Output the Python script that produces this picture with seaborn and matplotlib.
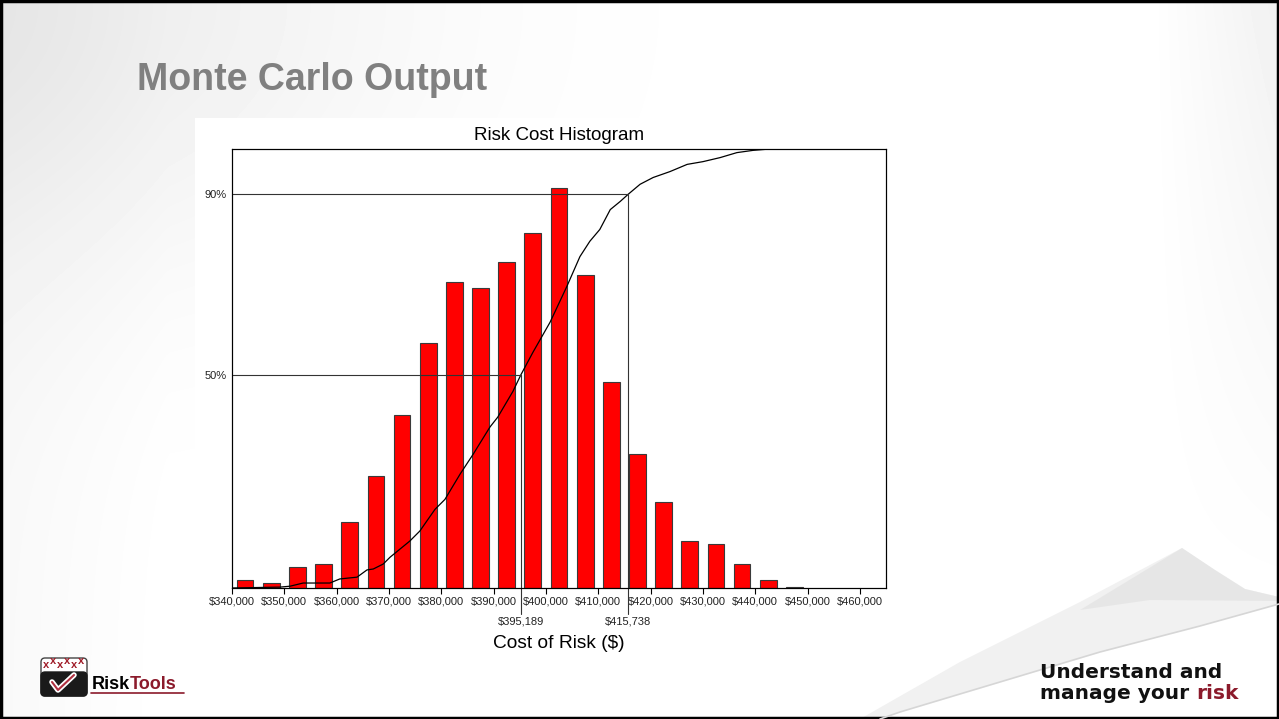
import numpy as np
import pandas as pd
import seaborn as sns
import matplotlib.pyplot as plt
import matplotlib.transforms as mtransforms
from matplotlib.patches import Rectangle, Polygon, FancyBboxPatch

# Histogram of simulated risk cost ($5,000 bins, bin centres)
bin_centers = [342500, 347500, 352500, 357500, 362500, 367500, 372500, 377500,
               382500, 387500, 392500, 397500, 402500, 407500, 412500, 417500,
               422500, 427500, 432500, 437500, 442500, 447500]
counts = [12, 8, 33, 37, 103, 175, 270, 382, 478, 468, 509, 554,
          624, 488, 321, 209, 134, 73, 69, 37, 12, 2]

# Cumulative distribution
cum_cost = [340000, 349200, 351100, 353600, 358700, 360600, 363900, 365800,
            367000, 368900, 370200, 374000, 375900, 378800, 380700, 383600,
            386100, 389300, 390800, 393700, 395189, 397500, 400800, 404000,
            406500, 408400, 410300, 412300, 414200, 415738, 418000, 420500,
            423700, 427000, 430000, 433300, 436500, 439600, 442800]
cum_pct = [0.029, 0.031, 0.033, 0.040, 0.040, 0.049, 0.053, 0.069, 0.071, 0.082,
           0.097, 0.133, 0.155, 0.203, 0.225, 0.281, 0.325, 0.385, 0.407, 0.464,
           0.500, 0.550, 0.617, 0.696, 0.762, 0.796, 0.822, 0.866, 0.884, 0.900,
           0.922, 0.937, 0.950, 0.966, 0.972, 0.981, 0.992, 0.997, 1.000]

# Percentile markers
pct_levels = [0.5, 0.9]
pct_costs = [395189, 415738]
pct_labels = ['50%', '90%']

x_ticks = [340000, 350000, 360000, 370000, 380000, 390000, 400000,
           410000, 420000, 430000, 440000, 450000, 460000]

hist_df = pd.DataFrame({'cost': bin_centers, 'count': counts})
cdf_df = pd.DataFrame({'cost': cum_cost, 'pct': cum_pct})

sns.set_theme(style='white')
plt.rcParams['font.family'] = ['Liberation Sans', 'DejaVu Sans']

W, H = 1279, 719
fig = plt.figure(figsize=(W / 100, H / 100), dpi=100)

# Slide background (light gradient, page curl, border)
bg = fig.add_axes([0, 0, 1, 1], zorder=-10)
xx, yy = np.meshgrid(np.linspace(0, 1, 320), np.linspace(0, 1, 180))
shade = 0.075 * np.exp(-((xx / 0.3) ** 2 + (yy / 0.38) ** 2))
shade += 0.055 * np.clip((xx - 0.9) / 0.1, 0, 1) * np.clip(1 - yy / 0.85, 0, 1)
shade += 0.025 * np.clip(1 - xx / 0.13, 0, 1)
bg.imshow(1 - shade, cmap='gray', vmin=0, vmax=1, extent=[0, W, H, 0],
          aspect='auto', interpolation='bilinear')
bg.add_patch(Polygon([(860, 719), (960, 662), (1080, 602), (1182, 548),
                      (1215, 570), (1245, 589), (1279, 597), (1279, 604),
                      (1200, 626), (1100, 652), (1000, 682), (900, 712),
                      (880, 719)], closed=True, fc='#f1f1f1', ec='none'))
bg.add_patch(Polygon([(1182, 548), (1215, 570), (1245, 589), (1279, 597),
                      (1279, 601), (1150, 600), (1080, 610)], closed=True,
                     fc='#e4e4e4', ec='none', alpha=0.8))
bg.plot([1279, 1200, 1100, 1000, 900, 880], [604, 626, 652, 682, 712, 719],
        color='#d6d6d6', lw=1.2)
bg.add_patch(Rectangle((195, 118), 710, 542, fc='white', ec='none'))
bg.add_patch(Rectangle((1, 1), W - 2, H - 2, fill=False, ec='black', lw=2.5))

# Logo
bg.add_patch(FancyBboxPatch((41, 658), 46, 38, boxstyle='round,pad=0,rounding_size=4',
                            fc='white', ec='#444444', lw=1))
bg.add_patch(FancyBboxPatch((41, 672), 46, 24, boxstyle='round,pad=0,rounding_size=4',
                            fc='#1a1a1a', ec='#1a1a1a', lw=1))
for lx, ly in [(46, 668), (53, 664), (60, 668), (67, 664), (74, 668), (81, 664)]:
    bg.text(lx, ly, 'x', color='#a01c28', fontsize=8, fontweight='bold',
            ha='center', va='baseline')
bg.plot([52, 58, 74], [682, 690, 675], color='white', lw=4, solid_capstyle='round')
bg.plot([52, 58, 74], [682, 690, 675], color='#b03040', lw=1.5, solid_capstyle='round')
bg.text(130, 689, 'Risk', color='black', fontsize=13, fontweight='bold',
        ha='right', va='baseline')
bg.text(130, 689, 'Tools', color='#8b1a2b', fontsize=13, fontweight='bold',
        ha='left', va='baseline')
bg.plot([91, 184], [693, 693], color='#8b1a2b', lw=1.2)

bg.set_xlim(0, W)
bg.set_ylim(H, 0)
bg.axis('off')

# Tagline
tag_kw = dict(fontsize=14.5, fontweight='heavy', family='DejaVu Sans',
              ha='left', va='baseline')
bg.text(1040, 678, 'Understand and', color='#111111', **tag_kw)
t2 = bg.text(1040, 699, 'manage your', color='#111111', **tag_kw)
renderer = fig.canvas.get_renderer()
ext = t2.get_window_extent(renderer=renderer)
x_risk = bg.transData.inverted().transform((ext.x1, ext.y0))[0] + 7
bg.text(x_risk, 699, 'risk', color='#8b1a2b', **tag_kw)

fig.text(137 / W, 1 - 90 / H, 'Monte Carlo Output', fontsize=27, fontweight='bold',
         color='#808080', ha='left', va='baseline')

# Histogram
ax = fig.add_axes([232 / W, (H - 588) / H, 654 / W, 439 / H])
sns.histplot(data=hist_df, x='cost', weights='count', binwidth=5000,
             binrange=(340000, 450000), shrink=0.64, color='#ff0000',
             edgecolor='#3a3a3a', linewidth=0.8, alpha=1, ax=ax)
ax.set_xlim(340000, 465000)
ax.set_ylim(0, max(counts) * 439 / 400)
ax.set_yticks([])
ax.set_ylabel('')
ax.set_xticks(x_ticks)
ax.set_xticklabels(['${:,}'.format(t) for t in x_ticks], fontsize=8, color='#222222')
ax.tick_params(axis='x', direction='out', length=4, width=0.8, color='black',
               pad=2, bottom=True)
ax.set_xlabel('Cost of Risk ($)', fontsize=13.8, color='black')
ax.xaxis.set_label_coords(0.5, -0.108)
ax.set_title('Risk Cost Histogram', fontsize=13.5, color='black', pad=6.5)
ax.set_facecolor('white')

# Cumulative curve
ax2 = ax.twinx()
y_lo, y_hi = 0.029, 1.0
sns.lineplot(data=cdf_df, x='cost', y='pct', color='black', lw=0.9,
             estimator=None, sort=False, ax=ax2)
ax2.set_ylim(y_lo, y_hi)
ax2.yaxis.tick_left()
ax2.set_yticks(pct_levels)
ax2.set_yticklabels(pct_labels, fontsize=8, color='#222222')
ax2.tick_params(axis='y', length=0, pad=4)
ax2.set_ylabel('')
ax2.set_xlabel('')
ax2.set_xlim(340000, 465000)

below = y_lo - 26 / 439 * (y_hi - y_lo)
trans = mtransforms.blended_transform_factory(ax2.transData, ax2.transAxes)
for lvl, cost in zip(pct_levels, pct_costs):
    ax2.plot([340000, cost], [lvl, lvl], color='#333333', lw=0.8)
    ax2.plot([cost, cost], [lvl, below], color='#333333', lw=0.8, clip_on=False)
    ax2.text(cost, -0.077, '${:,}'.format(cost), transform=trans, ha='center',
             va='center', fontsize=8, color='#222222')

for a in (ax, ax2):
    for s in a.spines.values():
        s.set_color('black')
        s.set_linewidth(0.8)

fig.savefig('out.png', dpi=100)
